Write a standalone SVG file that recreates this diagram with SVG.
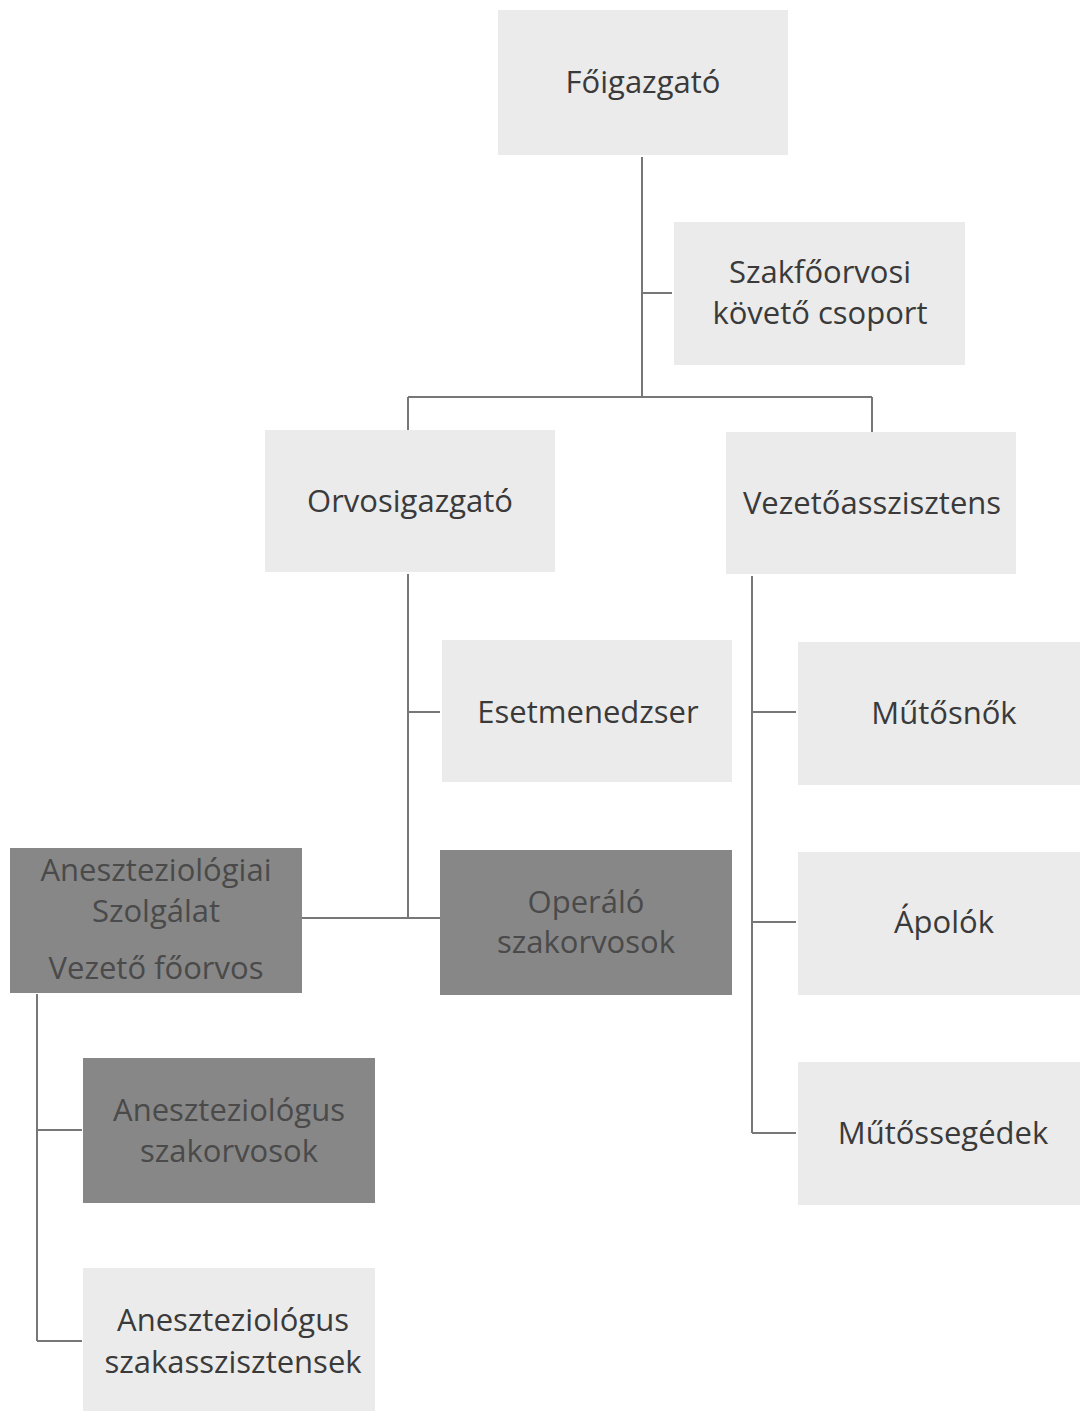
<svg xmlns="http://www.w3.org/2000/svg" width="1080" height="1411" viewBox="0 0 1080 1411">
<style>
.box{fill:#ebebeb}
.dark{fill:#878787}
.t{font-family:"Open Sans","Liberation Sans",sans-serif;font-size:31px;fill:#3a3a3a;text-anchor:middle;dominant-baseline:central}
.td{fill:#4a4a4a}
.c{fill:none;stroke:#777;stroke-width:2}
</style>
<rect width="1080" height="1411" fill="#ffffff"/>
<g id="connectors">
<path class="c" d="M642,157 V397 M642,293 H672 M408,397 H872 M408,397 V430 M872,397 V432"/>
<path class="c" d="M408,574 V918 M408,712 H440 M302,918 H440"/>
<path class="c" d="M752,576 V1133 M752,712 H796 M752,922 H796 M752,1133 H796"/>
<path class="c" d="M37,994 V1341 M37,1130 H82 M37,1341 H82"/>
</g>
<g id="foigazgato"><rect class="box" x="498" y="10" width="290" height="145"/><text class="t" x="643" y="81">Főigazgató</text></g>
<g id="szakfoorvosi"><rect class="box" x="674" y="222" width="291" height="143"/><text class="t" x="820" y="271">Szakfőorvosi</text><text class="t" x="820" y="312">követő csoport</text></g>
<g id="orvosigazgato"><rect class="box" x="265" y="430" width="290" height="142"/><text class="t" x="410" y="500">Orvosigazgató</text></g>
<g id="vezetoasszisztens"><rect class="box" x="726" y="432" width="290" height="142"/><text class="t" x="872" y="502">Vezetőasszisztens</text></g>
<g id="esetmenedzser"><rect class="box" x="442" y="640" width="290" height="142"/><text class="t" x="588" y="711">Esetmenedzser</text></g>
<g id="operalo"><rect class="dark" x="440" y="850" width="292" height="145"/><text class="t td" x="586" y="901">Operáló</text><text class="t td" x="586" y="941">szakorvosok</text></g>
<g id="aneszt-szolgalat"><rect class="dark" x="10" y="848" width="292" height="145"/><text class="t td" x="156" y="869">Aneszteziológiai</text><text class="t td" x="156" y="910">Szolgálat</text><text class="t td" x="156" y="967">Vezető főorvos</text></g>
<g id="mutosnok"><rect class="box" x="798" y="642" width="282" height="143"/><text class="t" x="944" y="712">Műtősnők</text></g>
<g id="apolok"><rect class="box" x="798" y="852" width="282" height="143"/><text class="t" x="944" y="921">Ápolók</text></g>
<g id="mutossegedek"><rect class="box" x="798" y="1062" width="282" height="143"/><text class="t" x="943" y="1132">Műtőssegédek</text></g>
<g id="aneszt-szakorvosok"><rect class="dark" x="83" y="1058" width="292" height="145"/><text class="t td" x="229" y="1109">Aneszteziológus</text><text class="t td" x="229" y="1150">szakorvosok</text></g>
<g id="aneszt-szakasszisztensek"><rect class="box" x="83" y="1268" width="292" height="143"/><text class="t" x="233" y="1319">Aneszteziológus</text><text class="t" x="233" y="1361">szakasszisztensek</text></g>
</svg>
